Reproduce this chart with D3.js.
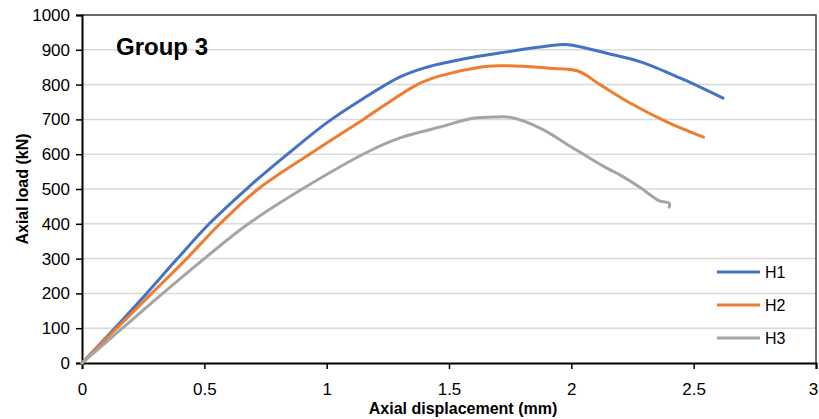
<!DOCTYPE html>
<html>
<head>
<meta charset="utf-8">
<script src="https://cdn.jsdelivr.net/npm/d3@7"></script>
<style>
  body { margin: 0; background: #fff; }
  svg { display: block; font-family: "Liberation Sans", Arial, sans-serif; }
</style>
</head>
<body>
<div id="chart"></div>
<script>
// axial displacement (mm), axial load (kN)
const h1Disp = [0, 0.134, 0.264, 0.39, 0.52, 0.68, 0.84, 1.0, 1.15, 1.3, 1.4, 1.5, 1.626, 1.737, 1.872, 1.966, 2.02, 2.145, 2.28, 2.444, 2.62];
const h1Load = [0, 100, 200, 300, 400, 505, 600, 690, 760, 822, 848, 865, 882, 894, 908, 915, 911, 890, 866, 819, 761];
const h2Disp = [0, 0.142, 0.285, 0.428, 0.564, 0.72, 0.93, 1.15, 1.37, 1.463, 1.626, 1.708, 1.80, 1.91, 2.027, 2.117, 2.24, 2.39, 2.54];
const h2Load = [0, 100, 200, 300, 400, 500, 600, 700, 800, 825, 850, 854, 853, 847, 839, 800, 747, 693, 649];
const h3Disp = [0, 0.165, 0.33, 0.5, 0.68, 0.9, 1.177, 1.30, 1.463, 1.598, 1.695, 1.75, 1.872, 2.007, 2.145, 2.2, 2.28, 2.36, 2.40, 2.40];
const h3Load = [0, 100, 200, 300, 400, 500, 610, 647, 678, 703, 707, 706, 675, 618, 560, 540, 505, 466, 459, 448];

const seriesNames = ["H1", "H2", "H3"];
const seriesColors = ["#4472C4", "#ED7D31", "#A5A5A5"];
const xTicks = [0, 0.5, 1, 1.5, 2, 2.5, 3];
const yTicks = [0, 100, 200, 300, 400, 500, 600, 700, 800, 900, 1000];

const series = [
  h1Disp.map((d, i) => [d, h1Load[i]]),
  h2Disp.map((d, i) => [d, h2Load[i]]),
  h3Disp.map((d, i) => [d, h3Load[i]])
];

const W = 819, H = 419;
const margin = {top: 15, right: 3, bottom: 56, left: 82};
const w = W - margin.left - margin.right;
const h = H - margin.top - margin.bottom;

const svg = d3.select("#chart").append("svg")
  .attr("width", W).attr("height", H);
const g = svg.append("g")
  .attr("transform", `translate(${margin.left},${margin.top})`);

const x = d3.scaleLinear().domain([0, 3]).range([0, w]);
const y = d3.scaleLinear().domain([0, 1000]).range([h, 0]);

// gridlines
g.append("g")
  .selectAll("line")
  .data(yTicks.slice(1))
  .join("line")
  .attr("x1", 0).attr("x2", w)
  .attr("y1", d => y(d)).attr("y2", d => y(d))
  .attr("stroke", "#d9d9d9").attr("stroke-width", 1.5);

// frame (top + right)
g.append("path")
  .attr("d", `M0,0H${w}V${h}`)
  .attr("fill", "none").attr("stroke", "#404040").attr("stroke-width", 1.5);

// axes
const xAxis = g.append("g")
  .attr("transform", `translate(0,${h})`)
  .call(d3.axisBottom(x).tickValues(xTicks).tickSize(6).tickPadding(14).tickFormat(d3.format("")));
const yAxis = g.append("g")
  .call(d3.axisLeft(y).tickValues(yTicks).tickSize(6).tickPadding(6).tickFormat(d3.format("d")));

[xAxis, yAxis].forEach(a => {
  a.select(".domain").attr("stroke", "#000").attr("stroke-width", 2);
  a.selectAll(".tick line").attr("stroke", "#000").attr("stroke-width", 1.5);
  a.selectAll(".tick text").attr("fill", "#000").style("font-size", "17px")
    .style("font-family", "'Liberation Sans', Arial, sans-serif");
});
// last x label sits on the right edge, nudge it in
xAxis.selectAll(".tick text").filter(d => d === 3).attr("dx", -3);

// lines
const line = d3.line()
  .x(d => x(d[0]))
  .y(d => y(d[1]))
  .curve(d3.curveCatmullRom.alpha(0.5));

g.selectAll(".series")
  .data(series)
  .join("path")
  .attr("class", "series")
  .attr("d", line)
  .attr("fill", "none")
  .attr("stroke", (d, i) => seriesColors[i])
  .attr("stroke-width", 3)
  .attr("stroke-linejoin", "round")
  .attr("stroke-linecap", "round");

// title
g.append("text")
  .attr("x", 34).attr("y", 40)
  .style("font-size", "24px").style("font-weight", "bold")
  .text("Group 3");

// axis titles
svg.append("text")
  .attr("x", 463).attr("y", 414)
  .attr("text-anchor", "middle")
  .style("font-size", "16px").style("font-weight", "bold")
  .text("Axial displacement (mm)");
svg.append("text")
  .attr("transform", `translate(22,${margin.top + h / 2}) rotate(-90)`)
  .attr("text-anchor", "middle")
  .attr("dy", "0.35em")
  .style("font-size", "16px").style("font-weight", "bold")
  .text("Axial load (kN)");

// legend
const legend = svg.append("g").attr("transform", "translate(717,272)");
seriesNames.forEach((name, i) => {
  const row = legend.append("g").attr("transform", `translate(0,${i * 33})`);
  row.append("line")
    .attr("x1", 0).attr("x2", 43)
    .attr("stroke", seriesColors[i]).attr("stroke-width", 3);
  row.append("text")
    .attr("x", 48).attr("dy", "0.35em")
    .style("font-size", "16px")
    .text(name);
});
</script>
</body>
</html>
